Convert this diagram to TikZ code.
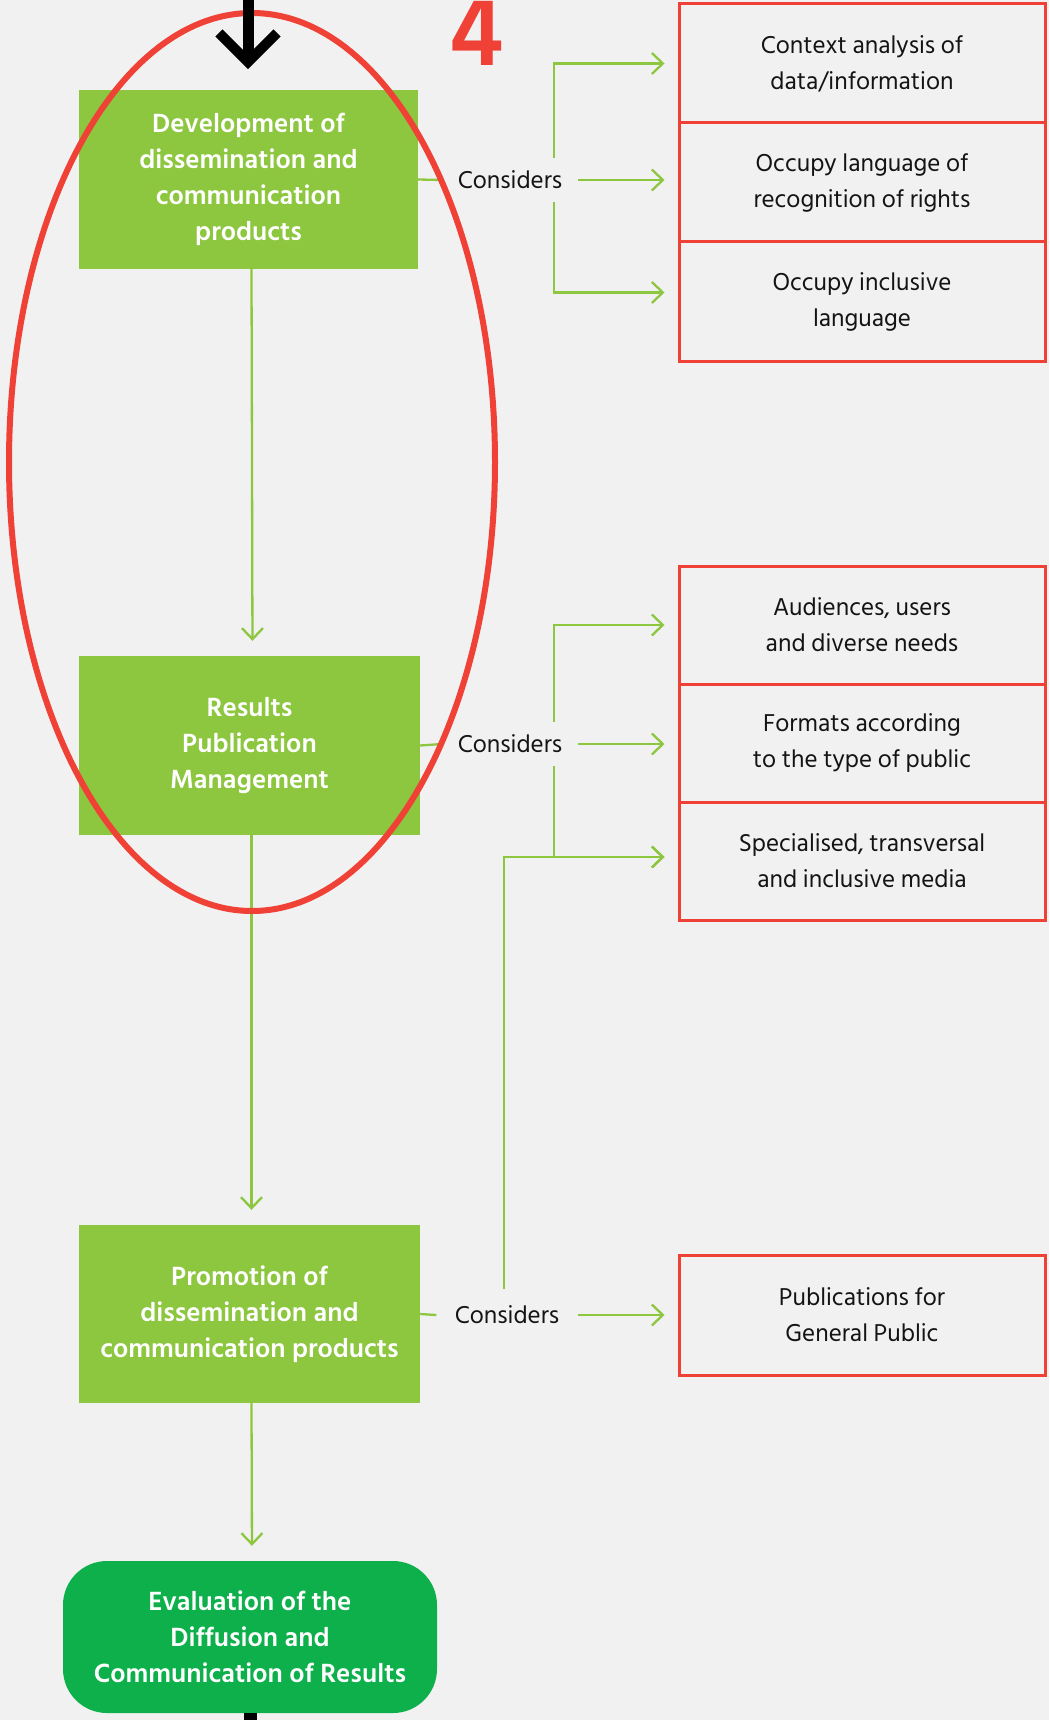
\documentclass[tikz,border=0pt]{standalone}
\usepackage{fontspec}
\setmainfont{Hind Siliguri}
\usetikzlibrary{arrows.meta,calc}
\definecolor{bgray}{RGB}{241,241,241}
\definecolor{leaf}{RGB}{141,198,63}
\definecolor{forest}{RGB}{13,176,75}
\definecolor{alert}{RGB}{239,65,54}
\definecolor{ink}{RGB}{20,20,20}

\tikzset{
  stage/.style={fill=leaf, text=white, align=center, inner sep=0pt,
    font=\fontsize{27}{36}\selectfont\bfseries},
  finalstage/.style={stage, fill=forest, rounded corners=44pt},
  itembox/.style={draw=alert, line width=3pt, align=center, inner sep=0pt,
    text=ink, minimum width=366pt, font=\fontsize{25}{36}\selectfont},
  consider/.style={inner sep=0pt, minimum height=44pt, text=ink,
    font=\fontsize{25}{28}\selectfont},
  conn/.style={draw=leaf, line width=2.3pt},
  arr/.style={conn, -{Straight Barb[length=11pt,width=21pt]}},
  flowarr/.style={arr, shorten >=15pt},
  sidearr/.style={arr, shorten >=13pt},
}

\begin{document}
\begin{tikzpicture}[x=1pt, y=-1pt]
  % canvas
  \fill[bgray] (0,0) rectangle (1049,1720);
  \useasboundingbox (0,0) rectangle (1049,1720);

  % main flow
  \node[stage, minimum width=339pt, minimum height=179pt] (dev) at (248.5,179.5)
    {Development of\\dissemination and\\communication\\products};
  \node[stage, minimum width=341pt, minimum height=179pt] (pub) at (249.5,745.5)
    {Results\\Publication\\Management};
  \node[stage, minimum width=341pt, minimum height=178pt] (promo) at (249.5,1314)
    {Promotion of\\dissemination and\\communication products};
  \node[finalstage, minimum width=374pt, minimum height=152pt] (eval) at (250,1637)
    {Evaluation of the\\Diffusion and\\Communication of Results};

  \draw[flowarr] ([xshift=3pt]dev.south) -- ([xshift=3pt]pub.north);
  \draw[flowarr] ([xshift=2pt]pub.south) -- ([xshift=2pt]promo.north);
  \draw[flowarr] ([xshift=2pt]promo.south) -- ([xshift=2pt]eval.north);

  % considerations, first group
  \node[itembox, minimum height=119pt] (r1) at (862,63.5)
    {Context analysis of\\data/information};
  \node[itembox, minimum height=119pt] (r2) at (862,182.5)
    {Occupy language of\\recognition of rights};
  \node[itembox, minimum height=119pt] (r3) at (862,301.5)
    {Occupy inclusive\\language};

  % second group
  \node[itembox, minimum height=118pt] (r4) at (862,625)
    {Audiences, users\\and diverse needs};
  \node[itembox, minimum height=118pt] (r5) at (862,743)
    {Formats according\\to the type of public};
  \node[itembox, minimum height=118pt] (r6) at (862,861)
    {Specialised, transversal\\and inclusive media};

  % third group
  \node[itembox, minimum height=120pt] (r7) at (862,1315)
    {Publications for\\General Public};

  % "Considers" junctions
  \node[consider, minimum width=136pt] (cons1) at (510,180) {Considers};
  \node[consider, minimum width=136pt] (cons2) at (510,744) {Considers};
  \node[consider, minimum width=141pt, minimum height=52pt] (cons3) at (507,1315) {Considers};
  \coordinate (j1) at (554,0);
  \coordinate (j3) at (504,0);

  \draw[conn] (dev.east) -- (cons1.west);
  \draw[sidearr] (cons1.north -| j1) |- (r1.west);
  \draw[sidearr] (cons1.east) -- (cons1.east -| r2.west);
  \draw[sidearr] (cons1.south -| j1) |- ([yshift=9pt]r3.west);

  \draw[conn] (pub.east) -- (cons2.west);
  \draw[sidearr] (cons2.north -| j1) |- (r4.west);
  \draw[sidearr] (cons2.east) -- (cons2.east -| r5.west);
  \draw[sidearr] (cons2.south -| j1) |- ([yshift=4pt]r6.west);

  \draw[conn] (promo.east) -- (cons3.west);
  \draw[sidearr] (cons3.east) -- (cons3.east -| r7.west);
  \draw[sidearr] (cons3.north -| j3) |- ([yshift=4pt]r6.west);

  % stage number and highlight
  \node[anchor=base, inner sep=0pt, text=alert,
    font=\fontsize{98}{98}\selectfont\bfseries] (stepnum) at (477,66) {4};
  \draw[alert, line width=6pt] (252,462) ellipse [x radius=243pt, y radius=449pt];

  % incoming and outgoing flow
  \coordinate (inflow) at (248,0);
  \coordinate (inflowend) at (248,62);
  \coordinate (outflow) at (250,1720);
  \draw[line width=11pt] (inflow) -- (inflowend);
  \draw[line width=10pt, miter limit=4] ($(inflowend)+(-29,-29)$) -- (inflowend) -- ($(inflowend)+(29,-29)$);
  \draw[line width=13pt] (eval.south) -- (outflow);
\end{tikzpicture}
\end{document}
